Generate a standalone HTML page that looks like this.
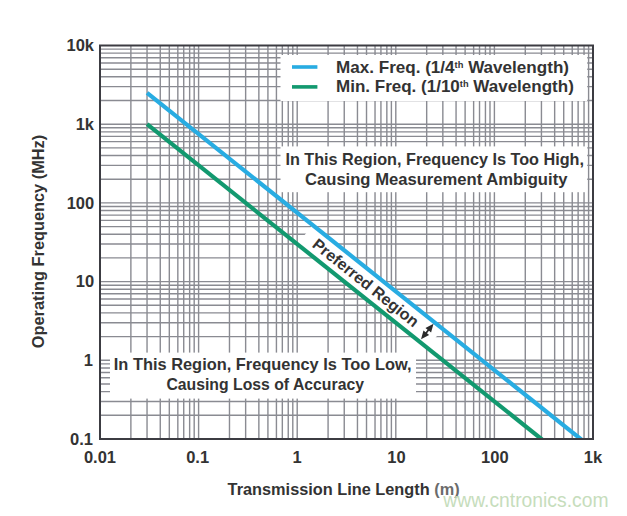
<!DOCTYPE html>
<html><head><meta charset="utf-8"><title>Operating Frequency vs Transmission Line Length</title>
<style>html,body{margin:0;padding:0;background:#fff;width:627px;height:516px;overflow:hidden}svg{display:block}</style>
</head><body>
<svg width="627" height="516" viewBox="0 0 627 516">
<rect width="627" height="516" fill="#fff"/>
<path d="M130.88 45.5V439.0M147.04 45.5V439.0M160.26 45.5V439.0M169.32 45.5V439.0M177.83 45.5V439.0M183.73 45.5V439.0M189.64 45.5V439.0M194.19 45.5V439.0M198.60 45.5V439.0M229.48 45.5V439.0M245.64 45.5V439.0M258.86 45.5V439.0M267.92 45.5V439.0M276.43 45.5V439.0M282.33 45.5V439.0M288.24 45.5V439.0M292.79 45.5V439.0M297.20 45.5V439.0M328.08 45.5V439.0M344.24 45.5V439.0M357.46 45.5V439.0M366.52 45.5V439.0M375.03 45.5V439.0M380.93 45.5V439.0M386.84 45.5V439.0M391.39 45.5V439.0M395.80 45.5V439.0M426.68 45.5V439.0M442.84 45.5V439.0M456.06 45.5V439.0M465.12 45.5V439.0M473.63 45.5V439.0M479.53 45.5V439.0M485.44 45.5V439.0M489.99 45.5V439.0M494.40 45.5V439.0M525.28 45.5V439.0M541.44 45.5V439.0M554.66 45.5V439.0M563.72 45.5V439.0M572.23 45.5V439.0M578.13 45.5V439.0M584.04 45.5V439.0M588.59 45.5V439.0M100.0 415.31H593.0M100.0 401.45H593.0M100.0 391.62H593.0M100.0 383.99H593.0M100.0 377.76H593.0M100.0 372.49H593.0M100.0 367.93H593.0M100.0 363.90H593.0M100.0 360.30H593.0M100.0 336.61H593.0M100.0 322.75H593.0M100.0 312.92H593.0M100.0 305.29H593.0M100.0 299.06H593.0M100.0 293.79H593.0M100.0 289.23H593.0M100.0 285.20H593.0M100.0 281.60H593.0M100.0 257.91H593.0M100.0 244.05H593.0M100.0 234.22H593.0M100.0 226.59H593.0M100.0 220.36H593.0M100.0 215.09H593.0M100.0 210.53H593.0M100.0 206.50H593.0M100.0 202.90H593.0M100.0 179.21H593.0M100.0 165.35H593.0M100.0 155.52H593.0M100.0 147.89H593.0M100.0 141.66H593.0M100.0 136.39H593.0M100.0 131.83H593.0M100.0 127.80H593.0M100.0 124.20H593.0M100.0 100.51H593.0M100.0 86.65H593.0M100.0 76.82H593.0M100.0 69.19H593.0M100.0 62.96H593.0M100.0 57.69H593.0M100.0 53.13H593.0M100.0 49.10H593.0" stroke="#8a8b92" stroke-width="1.4" fill="none"/>
<rect x="280.5" y="55" width="306.7" height="46" fill="#fff"/>
<rect x="280.5" y="146.4" width="306.7" height="45.8" fill="#fff"/>
<rect x="110" y="352.6" width="306" height="46" fill="#fff"/>
<polygon points="312.57,225.00 442.70,328.87 427.43,348.00 297.30,244.13" fill="#fff"/>
<clipPath id="pc"><rect x="100.0" y="45.5" width="493.0" height="393.5"/></clipPath>
<g clip-path="url(#pc)"><path d="M147.04 92.88L585.68 442.99" stroke="#28ace2" stroke-width="4.2" fill="none"/>
<path d="M147.04 124.20L546.44 442.99" stroke="#12996f" stroke-width="4.2" fill="none"/></g>
<rect x="100.0" y="45.5" width="493.0" height="393.5" fill="none" stroke="#3c3c42" stroke-width="2"/>
<path d="M292 67H317.4" stroke="#28ace2" stroke-width="3.6"/>
<path d="M292 86.9H317.4" stroke="#12996f" stroke-width="3.6"/>
<g transform="translate(427.28,331.53) rotate(38.596)" fill="#2b2b2b"><path d="M0 -10L3.6 -1.6L0.9 -1.6L0.9 1.6L3.6 1.6L0 10L-3.6 1.6L-0.9 1.6L-0.9 -1.6L-3.6 -1.6Z"/></g>
<g font-family="Liberation Sans, sans-serif" font-weight="bold" fill="#333">
<text x="336.00" y="72.60" font-size="16.5" textLength="233.00" lengthAdjust="spacingAndGlyphs">Max. Freq. (1/4<tspan font-size="9" dy="-4.8">th</tspan><tspan dy="4.8"> Wavelength)</tspan></text>
<text x="336.00" y="92.20" font-size="16.5" textLength="237.80" lengthAdjust="spacingAndGlyphs">Min. Freq. (1/10<tspan font-size="9" dy="-4.8">th</tspan><tspan dy="4.8"> Wavelength)</tspan></text>
<text x="285.40" y="165.00" font-size="16.5" textLength="298.60" lengthAdjust="spacingAndGlyphs">In This Region, Frequency Is Too High,</text>
<text x="305.00" y="184.80" font-size="16.5" textLength="262.40" lengthAdjust="spacingAndGlyphs">Causing Measurement Ambiguity</text>
<text x="113.80" y="370.20" font-size="16.5" textLength="297.81" lengthAdjust="spacingAndGlyphs">In This Region, Frequency Is Too Low,</text>
<text x="166.40" y="389.60" font-size="16.5" textLength="197.60" lengthAdjust="spacingAndGlyphs">Causing Loss of Accuracy</text>
<text transform="translate(311.20,246.30) rotate(38.596)" font-size="16.0" textLength="130.70" lengthAdjust="spacingAndGlyphs">Preferred Region</text>
<text x="94" y="51.1" font-size="16.5" text-anchor="end">10k</text>
<text x="94" y="129.8" font-size="16.5" text-anchor="end">1k</text>
<text x="94.2" y="208.5" font-size="16.5" text-anchor="end">100</text>
<text x="94.2" y="287.2" font-size="16.5" text-anchor="end">10</text>
<text x="93" y="365.9" font-size="16.5" text-anchor="end">1</text>
<text x="93" y="444.6" font-size="16.5" text-anchor="end">0.1</text>
<text x="100.0" y="463" font-size="16.5" text-anchor="middle">0.01</text>
<text x="197.6" y="463" font-size="16.5" text-anchor="middle">0.1</text>
<text x="297.2" y="463" font-size="16.5" text-anchor="middle">1</text>
<text x="396.4" y="463" font-size="16.5" text-anchor="middle">10</text>
<text x="494.8" y="463" font-size="16.5" text-anchor="middle">100</text>
<text x="593.0" y="463" font-size="16.5" text-anchor="middle">1k</text>
<text x="227.60" y="495.20" font-size="16.5" textLength="232.01" lengthAdjust="spacingAndGlyphs">Transmission Line Length <tspan fill="#6b6b6b">(m)</tspan></text>
<text transform="translate(44.00,348.20) rotate(-90)" font-size="16.5" textLength="213.41" lengthAdjust="spacingAndGlyphs">Operating Frequency (MHz)</text>
</g>
<text x="443.3" y="507.2" font-family="Liberation Sans, sans-serif" font-size="19.3" textLength="165.2" lengthAdjust="spacingAndGlyphs" fill="#c6ddbc">www.cntronics.com</text>
</svg>
</body></html>
